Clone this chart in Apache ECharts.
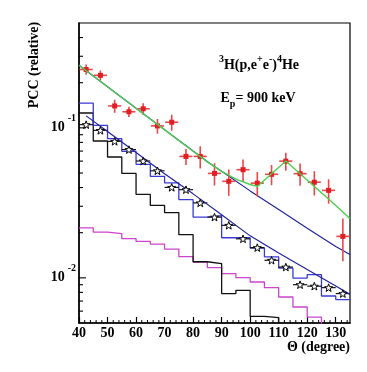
<!DOCTYPE html>
<html><head><meta charset="utf-8">
<script src="https://cdn.jsdelivr.net/npm/echarts@6/dist/echarts.min.js"></script>
<style>html,body{margin:0;padding:0;background:#fff}#c{width:367px;height:372px}</style>
</head><body><div id="c"></div>
<script>
// ---- data ----
const binEdges = [40,45,50,55,60,65,70,75,80,85,90,95,100,105,110,115,120,125,130,135];
const binCenters = [42.5,47.5,52.5,57.5,62.5,67.5,72.5,77.5,82.5,87.5,92.5,97.5,102.5,107.5,112.5,117.5,122.5,127.5,132.5];
const blackHist = [0.1256,0.0817,0.0639,0.0497,0.0360,0.0304,0.0272,0.0194,0.0128,0.01245,0.00785,0.00826,0.00553,0.00543,0.0001,0.0001,0.0001,0.0001,0.0001];
const blueHist = [0.146,0.104,0.0847,0.0697,0.0571,0.0475,0.0430,0.0332,0.0254,0.0260,0.0185,0.0185,0.0158,0.0138,0.0116,0.00997,0.0105,0.00757,0.00716];
const magentaHist = [0.02154,0.02018,0.01972,0.01825,0.0175,0.0168,0.01556,0.01384,0.01274,0.0117,0.01067,0.01003,0.00938,0.00861,0.00745,0.00639,0.00548,0.0001,0.0001];
const simValues = [0.105,0.0962,0.0813,0.0716,0.0601,0.0517,0.0401,0.0387,0.0316,0.0254,0.0224,0.0182,0.0159,0.0131,0.0118,0.0090,0.0088,0.0086,0.00785];
const simXErr = 2.5;
const expValues = [0.245,0.224,0.140,0.128,0.134,0.103,0.109,0.0645,0.0645,0.0497,0.044,0.0526,0.0428,0.049,0.060,0.0495,0.0434,0.0383,0.0189];
const expErrors = [0.019,0.017,0.014,0.010,0.012,0.0116,0.0134,0.0079,0.0109,0.0084,0.0088,0.0089,0.0079,0.0075,0.0083,0.0084,0.0080,0.0071,0.0060];
const expXErr = 2.3;
const simFitX = [42.5,50,60,70,80,90,100,110,120,130,135];
const simFitY = [0.1202,0.0944,0.0684,0.0495,0.0363,0.0263,0.01905,0.01462,0.01135,0.00881,0.00776];
const bgFitX = [40,50,60,70,80,86,90,100,110,120,130,135];
const bgFitY = [0.261,0.188,0.135,0.0973,0.070,0.0577,0.0513,0.0380,0.0285,0.0214,0.0162,0.0143];
const totFitX = [40,50,60,70,80,85,90,95,100,102.5,107.5,112.5,117.5,122.5,127.5,132.5,135];
const totFitY = [0.2612,0.1879,0.1352,0.0970,0.0698,0.0593,0.0513,0.0455,0.0419,0.0407,0.0495,0.0601,0.0495,0.0407,0.0335,0.0275,0.0248];
const xTicksMinor = [42,44,46,48,52,54,56,58,62,64,66,68,72,74,76,78,82,84,86,88,92,94,96,98,102,104,106,108,112,114,116,118,122,124,126,128,132,134];
const yTicksMajor = [0.01,0.1];
const yTicksMinor = [0.006,0.007,0.008,0.009,0.02,0.03,0.04,0.05,0.06,0.07,0.08,0.09,0.2,0.3,0.4];

// ---- chart ----
const FONT = '"Liberation Serif","Times New Roman",serif';
const chart = echarts.init(document.getElementById('c'), null, {renderer:'canvas'});
function hist(vals){ const d = vals.map((v,i)=>[binEdges[i], v]); d.push([binEdges[binEdges.length-1], vals[vals.length-1]]); return d; }
function pairs(xs, ys){ return xs.map((x,i)=>[x, ys[i]]); }
const starPath = 'path://M0,-10 L2.35,-3.24 L9.51,-3.09 L3.8,1.24 L5.88,8.09 L0,4 L-5.88,8.09 L-3.8,1.24 L-9.51,-3.09 L-2.35,-3.24 Z';

function errRender(color, width, withY){
  return function(params, api){
    const x = api.value(0), y = api.value(1), e = api.value(2), dx = api.value(3);
    const l = api.coord([x-dx, y]), r = api.coord([x+dx, y]);
    const children = [{type:'line', shape:{x1:l[0],y1:l[1],x2:r[0],y2:r[1]}, style:{stroke:color, lineWidth:width}}];
    if (withY && e > 0) {
      const lo = api.coord([x, y-e]), hi = api.coord([x, y+e]);
      children.push({type:'line', shape:{x1:lo[0],y1:lo[1],x2:hi[0],y2:hi[1]}, style:{stroke:color, lineWidth:width}});
    }
    return {type:'group', children};
  };
}

const option = {
  animation:false,
  backgroundColor:'#fff',
  grid:{left:79, right:17, top:23, bottom:49, show:true, borderColor:'#000', borderWidth:1.2, backgroundColor:'transparent', containLabel:false},
  xAxis:{type:'value', min:40, max:135, interval:10,
    axisLine:{lineStyle:{color:'#000', width:1.5}},
    axisTick:{inside:true, length:6, lineStyle:{color:'#000', width:1.2}},
    axisLabel:{color:'#000', fontFamily:FONT, fontWeight:'bold', fontSize:14, margin:3, showMaxLabel:false},
    splitLine:{show:false}},
  yAxis:{type:'log', logBase:10, min:0.005, max:0.5,
    axisLine:{lineStyle:{color:'#000', width:1.5}},
    axisTick:{show:false},
    axisLabel:{margin:3, showMinLabel:false, showMaxLabel:false,
      formatter:function(v){ const l = Math.log10(v); if (Math.abs(l-Math.round(l))>1e-6) return ''; return '{b|10}{s|'+Math.round(l)+'}'; },
      rich:{b:{fontFamily:FONT, fontWeight:'bold', fontSize:14, lineHeight:28, color:'#000'},
            s:{fontFamily:FONT, fontWeight:'bold', fontSize:10, verticalAlign:'top', color:'#000', padding:[0,0,0,3]}}},
    splitLine:{show:false}},
  graphic:[
    {type:'text', x:34, y:65, rotation:Math.PI/2, style:{text:'PCC (relative)', font:'bold 14px '+FONT, fill:'#000', align:'center', verticalAlign:'middle'}},
    {type:'text', x:350, y:347, style:{text:'Θ (degree)', font:'bold 14px '+FONT, fill:'#000', align:'right', verticalAlign:'middle'}},
    {type:'text', x:259, y:65, style:{text:'{s|3}{b|H(p,e}{s|+}{b|e}{s|-}{b|)}{s|4}{b|He}', align:'center', verticalAlign:'middle',
      rich:{b:{font:'bold 14px '+FONT, fill:'#000', lineHeight:22}, s:{font:'bold 10px '+FONT, fill:'#000', verticalAlign:'top'}}}},
    {type:'text', x:258, y:98, style:{text:'{b|E}{u|p}{b|= 900 keV}', align:'center', verticalAlign:'middle',
      rich:{b:{font:'bold 14px '+FONT, fill:'#000', lineHeight:22}, u:{font:'bold 10px '+FONT, fill:'#000', verticalAlign:'bottom'}}}}
  ],
  series:[
    {type:'line', step:'end', data:hist(magentaHist), showSymbol:false, lineStyle:{color:'#cc44cc', width:1.3}, z:2},
    {type:'line', step:'end', data:hist(blackHist), showSymbol:false, lineStyle:{color:'#111', width:1.3}, z:2},
    {type:'line', step:'end', data:hist(blueHist), showSymbol:false, lineStyle:{color:'#3a3ad6', width:1.3}, z:2},
    {type:'line', data:pairs(bgFitX, bgFitY), showSymbol:false, lineStyle:{color:'#22229e', width:1.2}, z:3},
    {type:'custom', data:simValues.map((v,i)=>[binCenters[i], v, 0, simXErr]), renderItem:errRender('#000', 1.1, false), silent:true, z:4},
    {type:'line', data:pairs(simFitX, simFitY), showSymbol:false, lineStyle:{color:'#22229e', width:1.2}, z:5},
    {type:'scatter', data:simValues.map((v,i)=>[binCenters[i], v]), symbol:starPath, symbolSize:8, symbolKeepAspect:true,
      itemStyle:{color:'#fff', borderColor:'#000', borderWidth:1, opacity:1}, z:6},
    {type:'custom', data:expValues.map((v,i)=>[binCenters[i], v, expErrors[i], expXErr]), renderItem:errRender('#e84848', 1.6, true), silent:true, z:7},
    {type:'scatter', data:expValues.map((v,i)=>[binCenters[i], v]), symbol:'rect', symbolSize:5, itemStyle:{color:'#e01e26', opacity:1}, z:8},
    {type:'line', data:pairs(totFitX, totFitY), showSymbol:false, lineStyle:{color:'#4ccf4c', width:1.4}, z:9},
    {type:'custom', data:xTicksMinor.map(t=>[t, 0.005, 3]), silent:true, z:10,
      renderItem:function(p, api){ const c = api.coord([api.value(0), api.value(1)]); return {type:'line', shape:{x1:c[0], y1:c[1], x2:c[0], y2:c[1]-api.value(2)}, style:{stroke:'#000', lineWidth:1}}; }},
    {type:'custom', data:yTicksMajor.map(t=>[40, t, 7]).concat(yTicksMinor.map(t=>[40, t, 4])), silent:true, z:10,
      renderItem:function(p, api){ const c = api.coord([api.value(0), api.value(1)]); return {type:'line', shape:{x1:c[0], y1:c[1], x2:c[0]+api.value(2), y2:c[1]}, style:{stroke:'#000', lineWidth:1.1}}; }}
  ]
};
chart.setOption(option);
</script></body></html>
